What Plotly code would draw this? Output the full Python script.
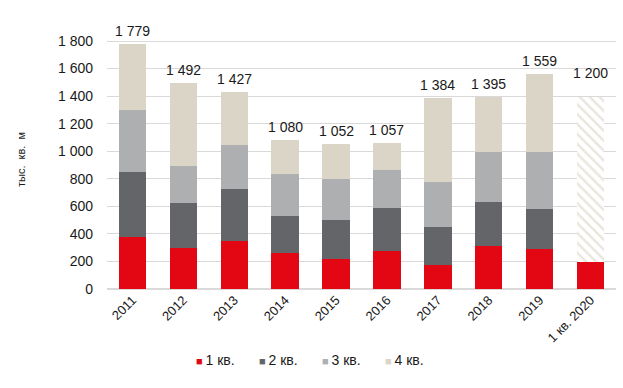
import plotly.graph_objects as go

categories = ["2011", "2012", "2013", "2014", "2015", "2016", "2017", "2018", "2019", "1 кв. 2020"]
q1 = [377, 298, 348, 259, 218, 276, 172, 314, 290, 194]
q2 = [470, 326, 380, 268, 280, 310, 278, 320, 288, None]
q3 = [450, 266, 319, 305, 303, 278, 327, 358, 414, None]
totals = [1779, 1492, 1427, 1080, 1052, 1057, 1384, 1395, 1559, 1200]
forecast = [None] * 9 + [1200]
q4 = [t - a - b - c if b is not None else None for t, a, b, c in zip(totals, q1, q2, q3)]
ticks = [0, 200, 400, 600, 800, 1000, 1200, 1400, 1600, 1800]
series_names = ["1 кв.", "2 кв.", "3 кв.", "4 кв."]
series_colors = ["#E30613", "#636569", "#ADAFB1", "#DBD5C7"]


def fmt(v):
    return f"{v:,}".replace(",", " ")


font = "Liberation Sans, Arial, sans-serif"
fig = go.Figure()
for name, vals, col in zip(series_names, [q1, q2, q3, q4], series_colors):
    fig.add_trace(go.Bar(x=categories, y=vals, name=name, marker_color=col,
                         marker_line_width=0))
fig.add_trace(go.Bar(x=categories, y=forecast, name="прогноз",
                     marker=dict(color="white", line_width=0,
                                 pattern=dict(shape="\\", fgcolor="#D5CEBD", bgcolor="white",
                                              size=7, solidity=0.35))))

for i, c in enumerate(categories):
    top = sum(v for v in (q1[i], q2[i], q3[i], q4[i], forecast[i]) if v is not None)
    fig.add_annotation(x=i, y=top, text=fmt(totals[i]), showarrow=False,
                       yanchor="bottom", yshift=3 if forecast[i] is None else 14,
                       font=dict(size=14, color="#1a1a1a", family=font))

# legend row
for k, (name, col) in enumerate(zip(series_names, series_colors)):
    fig.add_annotation(xref="paper", yref="paper", x=(194 - 107 + 63 * k) / 509, y=-0.274,
                       xanchor="left", yanchor="middle", showarrow=False,
                       text=f"<span style='color:{col};font-size:11px'>■</span>\u2009{name}",
                       font=dict(size=14, color="#1a1a1a", family=font))

fig.update_layout(
    barmode="stack", bargap=0.46,
    width=623, height=388,
    margin=dict(l=107, r=7, t=30, b=99),
    paper_bgcolor="white", plot_bgcolor="white",
    font=dict(family=font, color="#1a1a1a"),
    showlegend=False,
)
fig.update_yaxes(range=[0, 1880], tickvals=ticks, ticktext=[fmt(t) for t in ticks],
                 showgrid=True, gridcolor="#D9D9D9", gridwidth=1, zeroline=True,
                 zerolinecolor="#D9D9D9", ticks="", tickfont=dict(size=14),
                 ticklabelstandoff=13,
                 title=dict(text="тыс.  кв.  м", font=dict(size=11), standoff=30))
fig.update_xaxes(type="category", range=[-0.5, 9.5], tickangle=-45, tickfont=dict(size=13),
                 showline=False, ticks="")

fig.write_html("out.html", post_script="document.body.style.margin='0';",
               config={"displayModeBar": False})
